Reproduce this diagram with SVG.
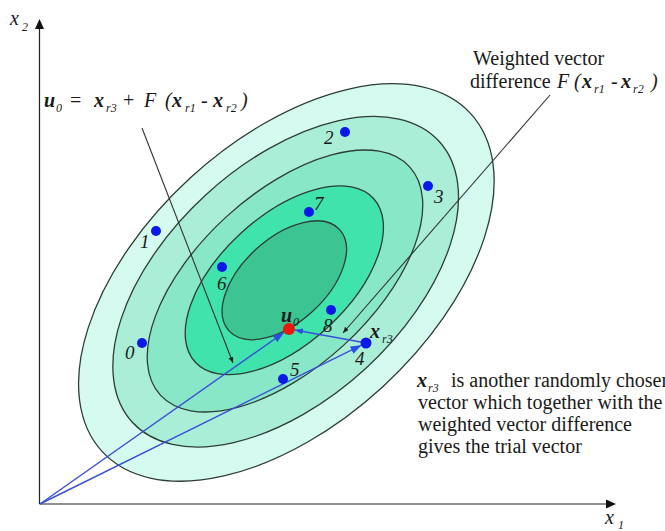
<svg xmlns="http://www.w3.org/2000/svg" width="665" height="531" viewBox="0 0 665 531">
<style>
.ell{stroke:#2e3d35;stroke-width:1.3}
.dot{fill:#0a18e8}
.lbl{font-family:"Liberation Serif",serif;font-style:italic;font-size:19px;fill:#1a1a1a}
.t{font-family:"Liberation Serif",serif;font-size:20px;fill:#1a1a1a}
.bi{font-weight:bold;font-style:italic}
.it{font-style:italic}
.sub{font-family:"Liberation Serif",serif;font-style:italic;font-size:12px;fill:#1a1a1a}
.blue{stroke:#3a4fd8;stroke-width:1.4;fill:none}
.blk{stroke:#333;stroke-width:1.1;fill:none}
</style>
<defs>
<marker id="ab" markerUnits="userSpaceOnUse" markerWidth="12" markerHeight="9" refX="11" refY="4" orient="auto"><path d="M0,0 L11,4 L0,8 z" fill="#2a4fe0"/></marker>
<marker id="abs" markerUnits="userSpaceOnUse" markerWidth="9" markerHeight="7" refX="8" refY="3" orient="auto"><path d="M0,0 L8,3 L0,6 z" fill="#2a4fe0"/></marker>
<marker id="ak" markerUnits="userSpaceOnUse" markerWidth="7" markerHeight="6" refX="6" refY="2.5" orient="auto"><path d="M0,0 L6,2.5 L0,5 z" fill="#222"/></marker>
</defs>
<rect width="665" height="531" fill="#fff"/>
<g id="contours" transform="translate(285 281) rotate(-42.5)">
<ellipse class="ell" cx="0" cy="2" rx="250" ry="142" fill="#d5fbf1"/>
<ellipse class="ell" cx="0" cy="1" rx="208" ry="118" fill="#aaeed8"/>
<ellipse class="ell" cx="0" cy="0" rx="169" ry="87" fill="#88e7c7"/>
<ellipse class="ell" cx="0" cy="-1" rx="121" ry="64" fill="#3fe3ab"/>
<ellipse class="ell" cx="0" cy="-1" rx="75" ry="42" fill="#3cc493"/>
</g>
<g id="axes">
<line x1="39.5" y1="504" x2="39.5" y2="28" stroke="#222" stroke-width="1.2"/>
<path d="M39.5,19 L35,29 L44,29 z" fill="#111"/>
<line x1="39.5" y1="504" x2="607" y2="504" stroke="#222" stroke-width="1.2"/>
<path d="M616,504 L606,499.5 L606,508.5 z" fill="#111"/>
<text class="t it" x="10" y="25" font-size="26">x</text>
<text class="sub" x="22" y="31" font-size="14">2</text>
<text class="t it" x="605" y="524" font-size="26">x</text>
<text class="sub" x="618" y="529" font-size="14">1</text>
</g>
<g id="connectors">
<line class="blue" x1="40" y1="504" x2="284" y2="332.5" marker-end="url(#ab)"/>
<line class="blue" x1="40" y1="504" x2="361.5" y2="345.2" marker-end="url(#ab)"/>
<line class="blue" x1="366" y1="343" x2="295" y2="330" marker-end="url(#abs)"/>
<line class="blk" x1="142" y1="128" x2="233" y2="363" marker-end="url(#ak)"/>
<line class="blk" x1="550" y1="95" x2="343" y2="333" marker-end="url(#ak)"/>
</g>
<g id="p0"><circle class="dot" cx="142" cy="343" r="5"/><text class="lbl" x="125" y="359">0</text></g>
<g id="p1"><circle class="dot" cx="156" cy="231" r="5"/><text class="lbl" x="140" y="248">1</text></g>
<g id="p2"><circle class="dot" cx="345" cy="132" r="5"/><text class="lbl" x="324" y="144">2</text></g>
<g id="p3"><circle class="dot" cx="428" cy="186" r="5"/><text class="lbl" x="434" y="203">3</text></g>
<g id="p4"><circle class="dot" cx="366" cy="343" r="5.5"/><text class="lbl" x="355" y="365">4</text></g>
<g id="p5"><circle class="dot" cx="283" cy="379" r="5"/><text class="lbl" x="290" y="376">5</text></g>
<g id="p6"><circle class="dot" cx="222" cy="267" r="5"/><text class="lbl" x="217" y="290">6</text></g>
<g id="p7"><circle class="dot" cx="309" cy="212" r="5"/><text class="lbl" x="314" y="210">7</text></g>
<g id="p8"><circle class="dot" cx="331" cy="310" r="5"/><text class="lbl" x="323" y="332">8</text></g>
<g id="u0"><circle cx="289" cy="329" r="6" fill="#e8170f"/><text class="t bi" x="281" y="322" font-size="23">u</text><text class="sub" x="293" y="326" font-size="13">0</text></g>
<g id="xr3label"><text class="t bi" x="370" y="338" font-size="24">x</text><text class="sub" x="382" y="343">r3</text></g>
<g id="formula">
<text class="t bi" x="44" y="107" font-size="23">u</text><text class="sub" x="56" y="112">0</text>
<text class="t" x="70" y="107" font-size="21">=</text>
<text class="t bi" x="94" y="107" font-size="24">x</text><text class="sub" x="106" y="112">r3</text>
<text class="t" x="123" y="107" font-size="21">+</text>
<text class="t it" x="144" y="107" font-size="23">F</text>
<text class="t it" x="165" y="107" font-size="21">(</text>
<text class="t bi" x="172" y="107" font-size="24">x</text><text class="sub" x="185" y="112">r1</text>
<text class="t" x="201" y="107" font-size="21">-</text>
<text class="t bi" x="213" y="107" font-size="24">x</text><text class="sub" x="226" y="112">r2</text>
<text class="t it" x="241" y="107" font-size="21">)</text>
</g>
<g id="weighted">
<text class="t" x="473" y="65">Weighted vector</text>
<text class="t" x="470" y="88">difference</text>
<text class="t it" x="557" y="88" font-size="22">F</text>
<text class="t it" x="574" y="88">(</text>
<text class="t bi" x="582" y="88" font-size="23">x</text><text class="sub" x="594" y="93">r1</text>
<text class="t" x="611" y="88">-</text>
<text class="t bi" x="621" y="88" font-size="23">x</text><text class="sub" x="633" y="93">r2</text>
<text class="t it" x="651" y="88">)</text>
</g>
<g id="note">
<text class="t bi" x="417" y="387" font-size="23">x</text><text class="sub" x="428" y="392" font-size="11">r3</text>
<text class="t" x="451" y="387">is another randomly chosen</text>
<text class="t" x="418" y="409">vector which together with the</text>
<text class="t" x="418" y="431">weighted vector difference</text>
<text class="t" x="418" y="453">gives the trial vector</text>
</g>
</svg>
